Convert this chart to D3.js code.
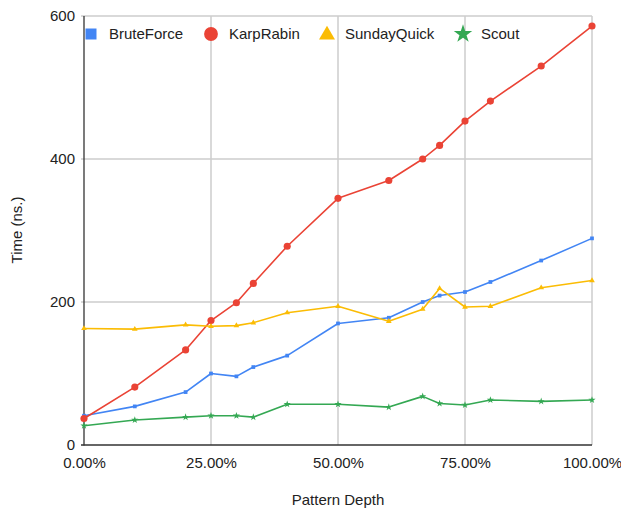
<!DOCTYPE html>
<html><head><meta charset="utf-8">
<script src="https://cdn.jsdelivr.net/npm/d3@7"></script>
<style>body{margin:0;background:#fff}svg{display:block;font-family:"Liberation Sans",Arial,sans-serif}</style>
</head><body><svg id="c" width="621" height="513"></svg>
<script>
const depths = [0, 10, 20, 25, 30, 33.33, 40, 50, 60, 66.67, 70, 75, 80, 90, 100];
const bruteForce = [41, 54, 74, 100, 96, 109, 125, 170, 178, 200, 209, 214, 228, 258, 289];
const karpRabin = [37, 81, 133, 174, 199, 226, 278, 345, 370, 400, 419, 453, 481, 530, 586];
const sundayQuick = [163, 162, 168, 166, 167, 171, 185, 194, 173, 190, 219, 193, 194, 220, 230];
const scout = [27, 35, 39, 41, 41, 39, 57, 57, 53, 68, 58, 56, 63, 61, 63];
const seriesNames = ["BruteForce", "KarpRabin", "SundayQuick", "Scout"];
const yTicks = [0, 200, 400, 600];
const xTicks = [0, 25, 50, 75, 100];

const colors = ["#4285F4", "#EA4335", "#FBBC04", "#34A853"];
const shapes = [d3.symbolSquare, d3.symbolCircle, d3.symbolTriangle, d3.symbolStar];
const series = [bruteForce, karpRabin, sundayQuick, scout];

const svg = d3.select("#c");
const m = {l: 84, r: 29, t: 16, b: 68};
const W = 621, H = 513;
const x = d3.scaleLinear().domain([0, 100]).range([m.l, W - m.r]);
const y = d3.scaleLinear().domain([0, 600]).range([H - m.b, m.t]);

// grid
svg.append("g").selectAll("line").data(yTicks.filter(d => d > 0)).join("line")
  .attr("x1", m.l - 3).attr("x2", W - m.r).attr("y1", d => y(d)).attr("y2", d => y(d))
  .attr("stroke", "#cccccc").attr("stroke-width", 1.5);
svg.append("g").selectAll("line").data(xTicks.filter(d => d > 0)).join("line")
  .attr("x1", d => x(d)).attr("x2", d => x(d)).attr("y1", m.t).attr("y2", H - m.b)
  .attr("stroke", "#cccccc").attr("stroke-width", 1.5);

// axes
const yAxis = d3.axisLeft(y).tickValues(yTicks).tickSize(0).tickPadding(9);
const gy = svg.append("g").attr("transform", `translate(${m.l},0)`).call(yAxis);
gy.select(".domain").remove();
gy.selectAll("text").attr("font-size", 15).attr("fill", "#222").style("font-family", "'Liberation Sans',Arial,sans-serif");
const xAxis = d3.axisBottom(x).tickValues(xTicks).tickSize(0).tickPadding(12).tickFormat(d => d.toFixed(2) + "%");
const gx = svg.append("g").attr("transform", `translate(0,${H - m.b})`).call(xAxis);
gx.select(".domain").remove();
gx.selectAll("text").attr("font-size", 15).attr("fill", "#222").style("font-family", "'Liberation Sans',Arial,sans-serif");

svg.append("line").attr("x1", m.l).attr("x2", m.l).attr("y1", m.t).attr("y2", H - m.b + 0.5).attr("stroke", "#333").attr("stroke-width", 1.3);
svg.append("line").attr("x1", m.l - 3).attr("x2", W - m.r).attr("y1", H - m.b).attr("y2", H - m.b).attr("stroke", "#333").attr("stroke-width", 1.3);

// axis titles
svg.append("text").attr("x", (m.l + W - m.r) / 2).attr("y", 505).attr("text-anchor", "middle")
  .attr("font-size", 15).attr("fill", "#222").text("Pattern Depth");
svg.append("text").attr("transform", "translate(22,230) rotate(-90)").attr("text-anchor", "middle")
  .attr("font-size", 15).attr("fill", "#222").text("Time (ns.)");

// lines
const line = d3.line().x((d, i) => x(depths[i])).y(d => y(d));
const markerSizes = [14, 40, 14, 16];
series.forEach((s, k) => {
  svg.append("path").datum(s).attr("d", line).attr("fill", "none")
    .attr("stroke", colors[k]).attr("stroke-width", 1.6).attr("stroke-linejoin", "round");
  svg.append("g").selectAll("path").data(s).join("path")
    .attr("transform", (d, i) => `translate(${x(depths[i])},${y(d)})`)
    .attr("d", d3.symbol().type(shapes[k]).size(markerSizes[k]))
    .attr("fill", colors[k]);
});

// legend
const legX = [91, 211, 327, 463];
const legSizes = [121, 150, 110, 105];
const lg = svg.append("g");
seriesNames.forEach((n, k) => {
  lg.append("path").attr("transform", `translate(${legX[k]},${k === 2 ? 35 : 34})`)
    .attr("d", d3.symbol().type(shapes[k]).size(legSizes[k])).attr("fill", colors[k]);
  lg.append("text").attr("x", legX[k] + 18).attr("y", 39).attr("font-size", 15).attr("fill", "#222").text(n);
});
</script></body></html>
